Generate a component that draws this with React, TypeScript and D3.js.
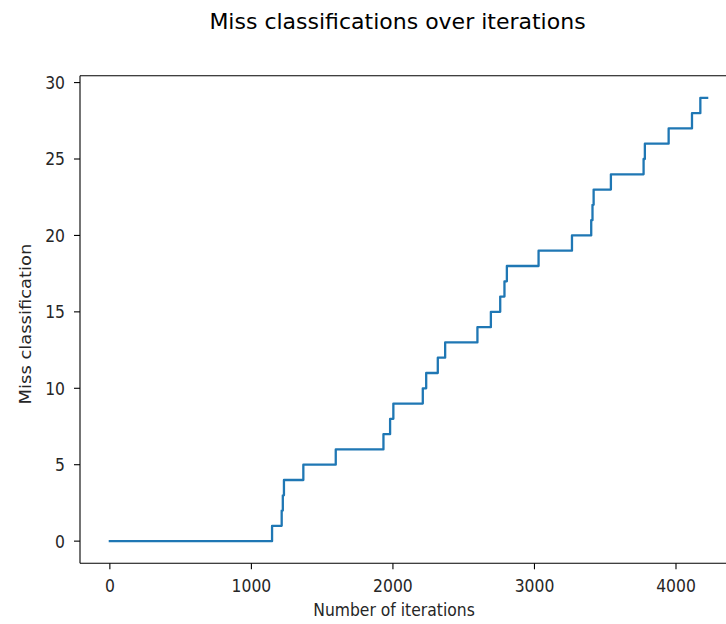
import React from "react";
import * as d3 from "d3";

const stepIterations: number[] = [
  0, 1146, 1214, 1222, 1230, 1367, 1596, 1933, 1980, 2003, 2211, 2235, 2317,
  2369, 2597, 2692, 2758, 2788, 2805, 3029, 3265, 3401, 3410, 3418, 3540, 3771,
  3780, 3948, 4113, 4172, 4220,
];
const missCounts: number[] = [
  0, 1, 2, 3, 4, 5, 6, 7, 8, 9, 10, 11, 12, 13, 14, 15, 16, 17, 18, 19, 20, 21,
  22, 23, 24, 25, 26, 27, 28, 29, 29,
];
const xTicks: number[] = [0, 1000, 2000, 3000, 4000];
const yTicks: number[] = [0, 5, 10, 15, 20, 25, 30];

const titleText = "Miss classifications over iterations";
const xLabelText = "Number of iterations";
const yLabelText = "Miss classification";

const W = 726;
const H = 624;
const left = 80;
const right = 737;
const top = 75.7;
const bottom = 563.3;
const FONT = "DejaVu Sans, sans-serif";
const FS = 15.6;
const STRETCH = 1.15;

export default function App() {
  const xMax = d3.max(stepIterations) as number;
  const yMax = d3.max(missCounts) as number;
  const x = d3
    .scaleLinear()
    .domain([-0.05 * xMax, xMax * 1.05])
    .range([left, right]);
  const y = d3
    .scaleLinear()
    .domain([-0.05 * yMax, yMax * 1.05])
    .range([bottom, top]);

  const pts: [number, number][] = stepIterations.map((s, i) => [s, missCounts[i]]);
  const line = d3
    .line<[number, number]>()
    .x((d) => x(d[0]))
    .y((d) => y(d[1]))
    .curve(d3.curveStepAfter);

  return (
    <svg
      width={W}
      height={H}
      style={{ position: "absolute", left: 0, top: 0, background: "#fff" }}
    >
      <rect x={0} y={0} width={W} height={H} fill="#fff" />
      <text
        x={397.5}
        y={28.5}
        textAnchor="middle"
        fontFamily={FONT}
        fontSize={22}
        fill="#000"
      >
        {titleText}
      </text>
      <path
        d={line(pts) || ""}
        fill="none"
        stroke="#1f77b4"
        strokeWidth={2.3}
        strokeLinejoin="round"
        strokeLinecap="square"
      />
      {/* spines */}
      <line x1={left} x2={left} y1={top} y2={bottom} stroke="#000" strokeWidth={1.1} />
      <line x1={left} x2={right} y1={bottom} y2={bottom} stroke="#000" strokeWidth={1.1} />
      <line x1={left} x2={right} y1={top} y2={top} stroke="#000" strokeWidth={1.1} />
      <line x1={right} x2={right} y1={top} y2={bottom} stroke="#000" strokeWidth={1.1} />
      {xTicks.map((t) => (
        <g key={"x" + t}>
          <line x1={x(t)} x2={x(t)} y1={bottom} y2={bottom + 6} stroke="#000" strokeWidth={1.1} />
          <text
            transform={`translate(${x(t)}, ${bottom + 29}) scale(1, ${STRETCH})`}
            textAnchor="middle"
            fontFamily={FONT}
            fontSize={FS}
            fill="#262626"
          >
            {t}
          </text>
        </g>
      ))}
      {yTicks.map((t) => (
        <g key={"y" + t}>
          <line x1={left - 6} x2={left} y1={y(t)} y2={y(t)} stroke="#000" strokeWidth={1.1} />
          <text
            transform={`translate(${left - 15}, ${y(t) + 0.36 * FS * STRETCH}) scale(1, ${STRETCH})`}
            textAnchor="end"
            fontFamily={FONT}
            fontSize={FS}
            fill="#262626"
          >
            {t}
          </text>
        </g>
      ))}
      <text
        transform={`translate(394, 616) scale(1, ${STRETCH})`}
        textAnchor="middle"
        fontFamily={FONT}
        fontSize={FS}
        fill="#262626"
      >
        {xLabelText}
      </text>
      <text
        transform={`translate(31, 324) rotate(-90) scale(${STRETCH}, 1)`}
        textAnchor="middle"
        fontFamily={FONT}
        fontSize={FS}
        fill="#262626"
      >
        {yLabelText}
      </text>
    </svg>
  );
}
